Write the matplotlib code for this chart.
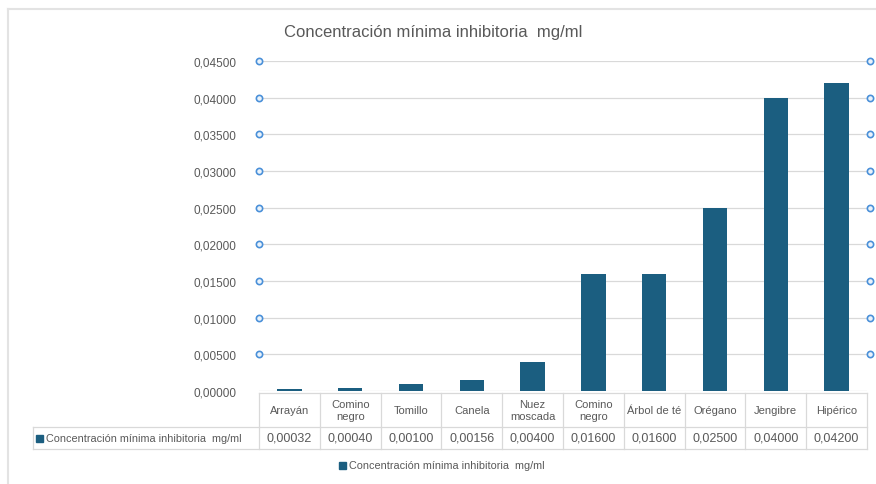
import matplotlib
matplotlib.use("Agg")
import matplotlib.pyplot as plt
import matplotlib.transforms as mtransforms
from matplotlib.patches import Rectangle
import numpy as np

plt.rcParams['font.family'] = ['Liberation Sans', 'DejaVu Sans']

categories = ["Arrayán", "Comino\nnegro", "Tomillo", "Canela", "Nuez\nmoscada",
              "Comino\nnegro", "Árbol de té", "Orégano", "Jengibre", "Hipérico"]
values = [0.00032, 0.00040, 0.00100, 0.00156, 0.00400,
          0.01600, 0.01600, 0.02500, 0.04000, 0.04200]
value_labels = ["0,00032", "0,00040", "0,00100", "0,00156", "0,00400",
                "0,01600", "0,01600", "0,02500", "0,04000", "0,04200"]
series_name = "Concentración mínima inhibitoria  mg/ml"
title = "Concentración mínima inhibitoria  mg/ml"
yticks = [0.0, 0.005, 0.010, 0.015, 0.020, 0.025, 0.030, 0.035, 0.040, 0.045]
ytick_labels = ["0,00000", "0,00500", "0,01000", "0,01500", "0,02000",
                "0,02500", "0,03000", "0,03500", "0,04000", "0,04500"]

W, H = 876, 485
BAR = '#1b5e80'
TXT = '#595959'
GRID = '#d9d9d9'

def fx(p):
    return p / W

def fy(p):
    return 1 - p / H

fig = plt.figure(figsize=(W / 100, H / 100), dpi=100)
# outer chart border (only top and left visible)
fig.add_artist(plt.Line2D([fx(8), 1.0], [fy(10), fy(10)], transform=fig.transFigure,
                          color='#e3e3e3', lw=1.5))
fig.add_artist(plt.Line2D([fx(8), fx(8)], [fy(10), 0.0], transform=fig.transFigure,
                          color='#e3e3e3', lw=1.5))

ax = fig.add_axes([fx(259), fy(392), fx(867) - fx(259), fy(62) - fy(392)])
x = np.arange(len(values))
ax.bar(x, values, width=0.40, color=BAR, zorder=3)
ax.set_xlim(-0.5, len(values) - 0.5)
ax.set_ylim(0, 0.045)
ax.set_yticks(yticks)
ax.set_yticklabels(ytick_labels, color=TXT, fontsize=8.5)
ax.tick_params(axis='y', length=0, pad=16)
ax.set_xticks([])
for s in ax.spines.values():
    s.set_visible(False)
ax.yaxis.grid(True, color=GRID, lw=0.9, zorder=0)

# handle markers
for yv in yticks[1:]:
    ax.plot([-0.5, len(values) - 0.45], [yv, yv], ls='none', marker='o', ms=4.5,
            mfc='#eaf3fb', mec='#4a90d9', mew=1.2, clip_on=False, zorder=5)

fig.text(fx(433), fy(33), title, ha='center', va='center', fontsize=12, color=TXT)

# data table
bt = mtransforms.blended_transform_factory(ax.transData, fig.transFigure)
line_kw = dict(color=GRID, lw=0.9)
fig.add_artist(plt.Line2D([fx(259), fx(867)], [fy(394), fy(394)], transform=fig.transFigure, **line_kw))
fig.add_artist(plt.Line2D([fx(33), fx(867)], [fy(428), fy(428)], transform=fig.transFigure, **line_kw))
fig.add_artist(plt.Line2D([fx(33), fx(867)], [fy(450), fy(450)], transform=fig.transFigure, **line_kw))
fig.add_artist(plt.Line2D([fx(33), fx(33)], [fy(428), fy(450)], transform=fig.transFigure, **line_kw))
for i in range(len(values) + 1):
    fig.add_artist(plt.Line2D([i - 0.5, i - 0.5], [fy(394), fy(450)], transform=bt, **line_kw))
for i, (c, v) in enumerate(zip(categories, value_labels)):
    fig.text(i, fy(411), c, transform=bt, ha='center', va='center',
             fontsize=8, color=TXT, linespacing=1.3)
    fig.text(i, fy(439), v, transform=bt, ha='center', va='center',
             fontsize=9, color=TXT)

fig.add_artist(Rectangle((fx(36), fy(442.5)), fx(7), fy(435.5) - fy(442.5),
                         transform=fig.transFigure, color=BAR))
fig.text(fx(46), fy(439), series_name, ha='left', va='center', fontsize=7.8, color=TXT)

# legend
fig.add_artist(Rectangle((fx(339), fy(469.5)), fx(7), fy(462.5) - fy(469.5),
                         transform=fig.transFigure, color=BAR))
fig.text(fx(349), fy(466), series_name, ha='left', va='center', fontsize=7.8, color=TXT)

fig.savefig("out.png", dpi=100)
